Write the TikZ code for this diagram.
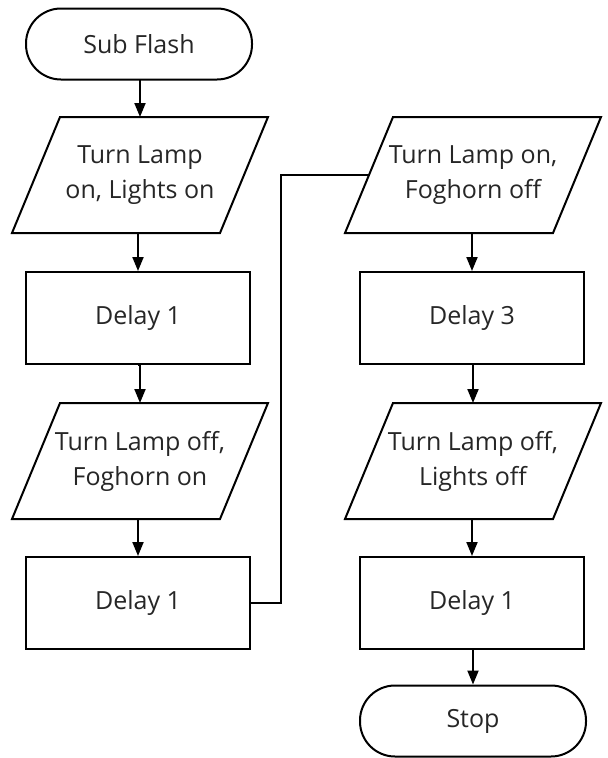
\documentclass[tikz,border=0pt]{standalone}
\usepackage{fontspec}
\setmainfont{Open Sans}
\usetikzlibrary{arrows.meta}
\newcommand\drawpara[1]{\draw ([xshift=-24pt]#1.south west) -- ([xshift=24pt]#1.north west) -- ([xshift=24pt]#1.north east) -- ([xshift=-24pt]#1.south east) -- cycle;}
\begin{document}
\begin{tikzpicture}[x=1pt,y=-1pt,
  line width=2pt,
  every node/.style={font=\fontsize{25}{35}\selectfont, text=black!85, align=center},
  term/.style={draw, rounded corners=35pt, minimum width=226pt, minimum height=71pt, inner sep=0pt},
  proc/.style={draw, minimum width=224pt, minimum height=92pt, inner sep=0pt},
  io/.style={minimum width=206pt, minimum height=114pt, inner sep=0pt},
  arr/.style={-{Triangle[length=14pt,width=11pt]}},
]
\useasboundingbox (0,0) rectangle (608,758);
% left column
\node[term] (start) at (139,44) {Sub Flash};
\node[io]   (p1) at (140,175) {Turn Lamp\\on, Lights on};
\drawpara{p1}
\node[proc] (d1) at (138,318) {Delay 1};
\node[io]   (p2) at (140,461) {Turn Lamp off,\\Foghorn on};
\drawpara{p2}
\node[proc] (d2) at (138,603) {Delay 1};
% right column
\node[io]   (p3) at (473,175) {Turn Lamp on,\\Foghorn off};
\drawpara{p3}
\node[proc] (d3) at (472,318) {Delay 3};
\node[io]   (p4) at (473,461) {Turn Lamp off,\\Lights off};
\drawpara{p4}
\node[proc] (d4) at (472,603) {Delay 1};
\node[term] (stop) at (473,721) {Stop};
% connectors
\draw[arr] (start.south) -- (start.south -| p1.north) -- (p1.north);
\draw[arr] (p1.south) -- (p1.south -| d1.north) -- (d1.north);
\draw[arr] (d1.south) -- (d1.south -| p2.north) -- (p2.north);
\draw[arr] (p2.south) -- (p2.south -| d2.north) -- (d2.north);
\coordinate (bend) at (281,400);
\draw (d2.east) -- (d2.east -| bend) -- (bend |- p3.west) -- (p3.west);
\draw[arr] (p3.south) -- (p3.south -| d3.north) -- (d3.north);
\draw[arr] (d3.south) -- (d3.south -| p4.north) -- (p4.north);
\draw[arr] (p4.south) -- (p4.south -| d4.north) -- (d4.north);
\draw[arr] (d4.south) -- (d4.south -| stop.north) -- (stop.north);
\end{tikzpicture}
\end{document}
